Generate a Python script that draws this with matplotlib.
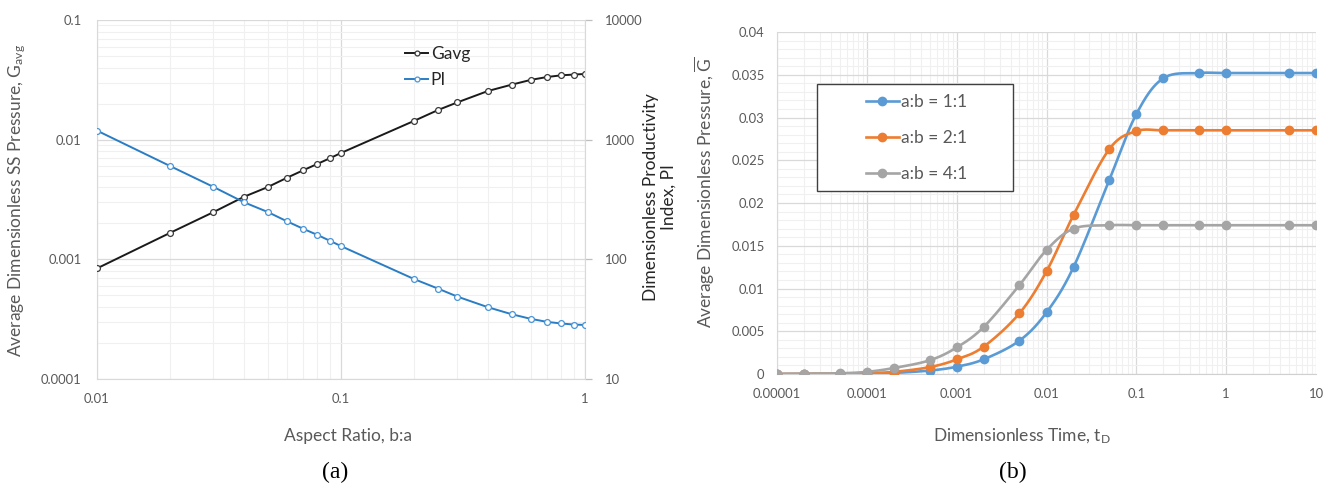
import numpy as np
import matplotlib
matplotlib.use("Agg")
import matplotlib.pyplot as plt
from matplotlib.ticker import FixedLocator, FixedFormatter, NullFormatter, LogLocator, MultipleLocator
from matplotlib.lines import Line2D
from matplotlib.patches import Rectangle

plt.rcParams['font.family'] = ['Lato', 'DejaVu Sans']
plt.rcParams['mathtext.fontset'] = 'custom'
plt.rcParams['mathtext.rm'] = 'Lato'
plt.rcParams['mathtext.it'] = 'Lato:italic'

# ---- (a) steady-state pressure and productivity vs aspect ratio ----
aspect_ratio = [0.01, 0.02, 0.03, 0.04, 0.05, 0.06, 0.07, 0.08, 0.09, 0.1,
                0.2, 0.25, 0.3, 0.4, 0.5, 0.6, 0.7, 0.8, 0.9, 1.0]
g_avg = [0.00084, 0.00167, 0.00248, 0.00333, 0.00401, 0.0048, 0.00555, 0.00627,
         0.00699, 0.00774, 0.0144, 0.0177, 0.0205, 0.0255, 0.0288, 0.0316,
         0.0334, 0.0345, 0.0350, 0.0354]
prod_index = [1190, 600, 403, 300, 249, 208, 180, 160, 143, 129,
              68.2, 56.9, 48.8, 39.8, 34.8, 31.8, 30.0, 29.1, 28.5, 28.3]

# ---- (b) average pressure vs dimensionless time ----
t_d = [1e-5, 2e-5, 5e-5, 1e-4, 2e-4, 5e-4, 1e-3, 2e-3, 5e-3, 1e-2,
       2e-2, 5e-2, 0.1, 0.2, 0.5, 1, 5, 10]
g_11 = [0, 0.00001, 0.00003, 0.00006, 0.00013, 0.0004, 0.00085, 0.00172, 0.0039,
        0.0072, 0.0125, 0.0227, 0.0304, 0.0346, 0.0352, 0.0352, 0.0352, 0.0352]
g_21 = [0, 0.00001, 0.00004, 0.0001, 0.00025, 0.0008, 0.0017, 0.0032, 0.0071,
        0.0120, 0.0186, 0.0263, 0.0284, 0.0285, 0.0285, 0.0285, 0.0285, 0.0285]
g_41 = [0, 0.00002, 0.00008, 0.00025, 0.0007, 0.0016, 0.0031, 0.0055, 0.0104,
        0.0145, 0.0170, 0.0174, 0.0174, 0.0174, 0.0174, 0.0174, 0.0174, 0.0174]
series_labels = ['a:b = 1:1', 'a:b = 2:1', 'a:b = 4:1']
series_colors = ['#5B9BD5', '#ED7D31', '#A5A5A5']

TXT = '#595959'
MAJ = '#D9D9D9'
MIN = '#F0F0F0'

W, H = 1333, 488
fig = plt.figure(figsize=(W / 100, H / 100), dpi=100)


def box(x0, y0, x1, y1):
    return [x0 / W, 1 - y1 / H, (x1 - x0) / W, (y1 - y0) / H]


def smooth(x, y, n=24):
    """Catmull-Rom curve through the points in (log10 x, y) space."""
    u = np.log10(np.asarray(x, float))
    v = np.asarray(y, float)
    P = np.column_stack([u, v])
    P = np.vstack([P[0], P, P[-1]])
    out = []
    s = np.linspace(0, 1, n, endpoint=False)[:, None]
    for i in range(1, len(P) - 2):
        p0, p1, p2, p3 = P[i - 1], P[i], P[i + 1], P[i + 2]
        c1 = p1 + (p2 - p0) / 6
        c2 = p2 - (p3 - p1) / 6
        seg = ((1 - s) ** 3) * p1 + 3 * ((1 - s) ** 2) * s * c1 + 3 * (1 - s) * s ** 2 * c2 + s ** 3 * p2
        out.append(seg)
    out.append(P[-2][None, :])
    out = np.vstack(out)
    return 10 ** out[:, 0], out[:, 1]


# ================= panel (a) =================
ax = fig.add_axes(box(97, 20, 585, 379))
ax.set_xscale('log')
ax.set_yscale('log')
ax.set_xlim(0.01, 1)
ax.set_ylim(1e-4, 0.1)
ax.xaxis.set_major_locator(FixedLocator([0.01, 0.1, 1]))
ax.xaxis.set_major_formatter(FixedFormatter(['0.01', '0.1', '1']))
ax.xaxis.set_minor_locator(LogLocator(base=10, subs=np.arange(2, 10)))
ax.xaxis.set_minor_formatter(NullFormatter())
ax.yaxis.set_major_locator(FixedLocator([1e-4, 1e-3, 1e-2, 1e-1]))
ax.yaxis.set_major_formatter(FixedFormatter(['0.0001', '0.001', '0.01', '0.1']))
ax.yaxis.set_minor_locator(LogLocator(base=10, subs=np.arange(2, 10)))
ax.yaxis.set_minor_formatter(NullFormatter())
ax.grid(which='major', color=MAJ, lw=0.9, zorder=0)
ax.grid(which='minor', color=MIN, lw=0.8, zorder=0)
ax.set_axisbelow(True)
for s in ['top', 'right']:
    ax.spines[s].set_visible(False)
for s in ['left', 'bottom']:
    ax.spines[s].set_color(MAJ)
ax.tick_params(which='both', length=0, labelsize=9.4, colors=TXT)
ax.tick_params(axis='x', pad=10)
ax.tick_params(axis='y', pad=11)

ax2 = ax.twinx()
ax2.set_yscale('log')
ax2.set_ylim(10, 10000)
ax2.yaxis.set_major_locator(FixedLocator([10, 100, 1000, 10000]))
ax2.yaxis.set_major_formatter(FixedFormatter(['10', '100', '1000', '10000']))
ax2.yaxis.set_minor_locator(FixedLocator([]))
for s in ['top', 'left', 'bottom']:
    ax2.spines[s].set_visible(False)
ax2.spines['right'].set_color(MAJ)
ax2.tick_params(axis='y', which='major', length=5, width=0.9, color='#BFBFBF',
                labelsize=9.4, labelcolor=TXT, pad=9)

ax.plot(aspect_ratio, g_avg, color='#1a1a1a', lw=1.4, marker='o', ms=4.2,
        mfc='white', mec='#3a3a3a', mew=0.9, zorder=3, label='Gavg')
ax2.plot(aspect_ratio, prod_index, color='#2A7DC4', lw=1.4, marker='o', ms=4.2,
         mfc='white', mec='#4A95D6', mew=0.9, zorder=3, label='PI')

hA = [Line2D([], [], color='#1a1a1a', lw=1.4, marker='o', ms=3.5, mfc='white', mec='#3a3a3a', mew=0.9),
      Line2D([], [], color='#2A7DC4', lw=1.4, marker='o', ms=3.5, mfc='white', mec='#4A95D6', mew=0.9)]
legA = fig.legend(hA, ['Gavg', 'PI'], loc='upper left',
                  bbox_to_anchor=(402 / W, 1 - 43 / H), frameon=False,
                  fontsize=12.5, handlelength=1.3, handletextpad=0.15,
                  labelspacing=0.55, borderaxespad=0, borderpad=0.2)
for t in legA.get_texts():
    t.set_color('#262626')

fig.text(17 / W, 1 - 200 / H, 'Average Dimensionless SS Pressure, G$_{\\mathrm{avg}}$',
         rotation=90, ha='center', va='center', fontsize=12.5, color=TXT)
fig.text(660 / W, 1 - 197 / H, 'Dimensionless Productivity\nIndex, PI',
         rotation=90, ha='center', va='center', fontsize=12.5, color='#262626',
         multialignment='center', linespacing=1.15)
fig.text(348 / W, 1 - 436 / H, 'Aspect Ratio, b:a', ha='center', va='center',
         fontsize=12.5, color=TXT)
fig.text(335 / W, 1 - 472 / H, '(a)', ha='center', va='center', fontsize=17,
         family='Liberation Serif', color='black')

# ================= panel (b) =================
bx = fig.add_axes(box(777, 32, 1316, 374))
bx.set_xscale('log')
bx.set_xlim(1e-5, 10)
bx.set_ylim(0, 0.04)
xt = [1e-5, 1e-4, 1e-3, 1e-2, 0.1, 1, 10]
bx.xaxis.set_major_locator(FixedLocator(xt))
bx.xaxis.set_major_formatter(FixedFormatter(['0.00001', '0.0001', '0.001', '0.01', '0.1', '1', '10']))
bx.xaxis.set_minor_locator(LogLocator(base=10, subs=np.arange(2, 10)))
bx.xaxis.set_minor_formatter(NullFormatter())
bx.yaxis.set_major_locator(FixedLocator(np.arange(0, 0.0401, 0.005)))
bx.yaxis.set_major_formatter(FixedFormatter(['0', '0.005', '0.01', '0.015', '0.02',
                                             '0.025', '0.03', '0.035', '0.04']))
bx.yaxis.set_minor_locator(MultipleLocator(0.001))
bx.grid(which='major', color=MAJ, lw=0.9, zorder=0)
bx.grid(which='minor', color=MIN, lw=0.8, zorder=0)
bx.set_axisbelow(True)
for s in ['top', 'right']:
    bx.spines[s].set_visible(False)
bx.spines['left'].set_color(MAJ)
bx.spines['bottom'].set_color('#D0D0D0')
bx.tick_params(which='both', length=0, labelsize=9.4, colors=TXT)
bx.tick_params(axis='x', pad=10)
bx.tick_params(axis='y', pad=9)

handles = []
for vals, col, lab in zip([g_11, g_21, g_41], series_colors, series_labels):
    xs, ys = smooth(t_d, vals)
    bx.plot(xs, ys, color=col, lw=1.9, zorder=3, solid_capstyle='round')
    bx.plot(t_d, vals, ls='none', marker='o', ms=6, color=col, zorder=4)
    handles.append(Line2D([], [], color=col, lw=1.9, marker='o', ms=6))

# legend frame with generous padding, entries placed inside it
frame = Rectangle((817 / W, 1 - 191 / H), 196 / W, 107 / H, transform=fig.transFigure,
                  facecolor='white', edgecolor='#404040', lw=1.0, zorder=5)
bx.add_artist(frame)
frame.set_clip_on(False)
legB = bx.legend(handles, series_labels, loc='upper left',
                 bbox_to_anchor=(866 / W, 1 - 94 / H), bbox_transform=fig.transFigure,
                 frameon=False, fontsize=12.5, handlelength=1.9, handletextpad=0.1,
                 labelspacing=1.14, borderpad=0, borderaxespad=0)
legB.set_zorder(6)
for t in legB.get_texts():
    t.set_color(TXT)

fig.text(705 / W, 1 - 192 / H, 'Average Dimensionless Pressure, $\\overline{\\mathrm{G}}$',
         rotation=90, ha='center', va='center', fontsize=12.5, color=TXT)
fig.text(1022 / W, 1 - 436 / H, 'Dimensionless Time, t$_{\\mathrm{D}}$', ha='center',
         va='center', fontsize=12.5, color=TXT)
fig.text(1013 / W, 1 - 472 / H, '(b)', ha='center', va='center', fontsize=17,
         family='Liberation Serif', color='black')

fig.savefig('out.png', dpi=100)
